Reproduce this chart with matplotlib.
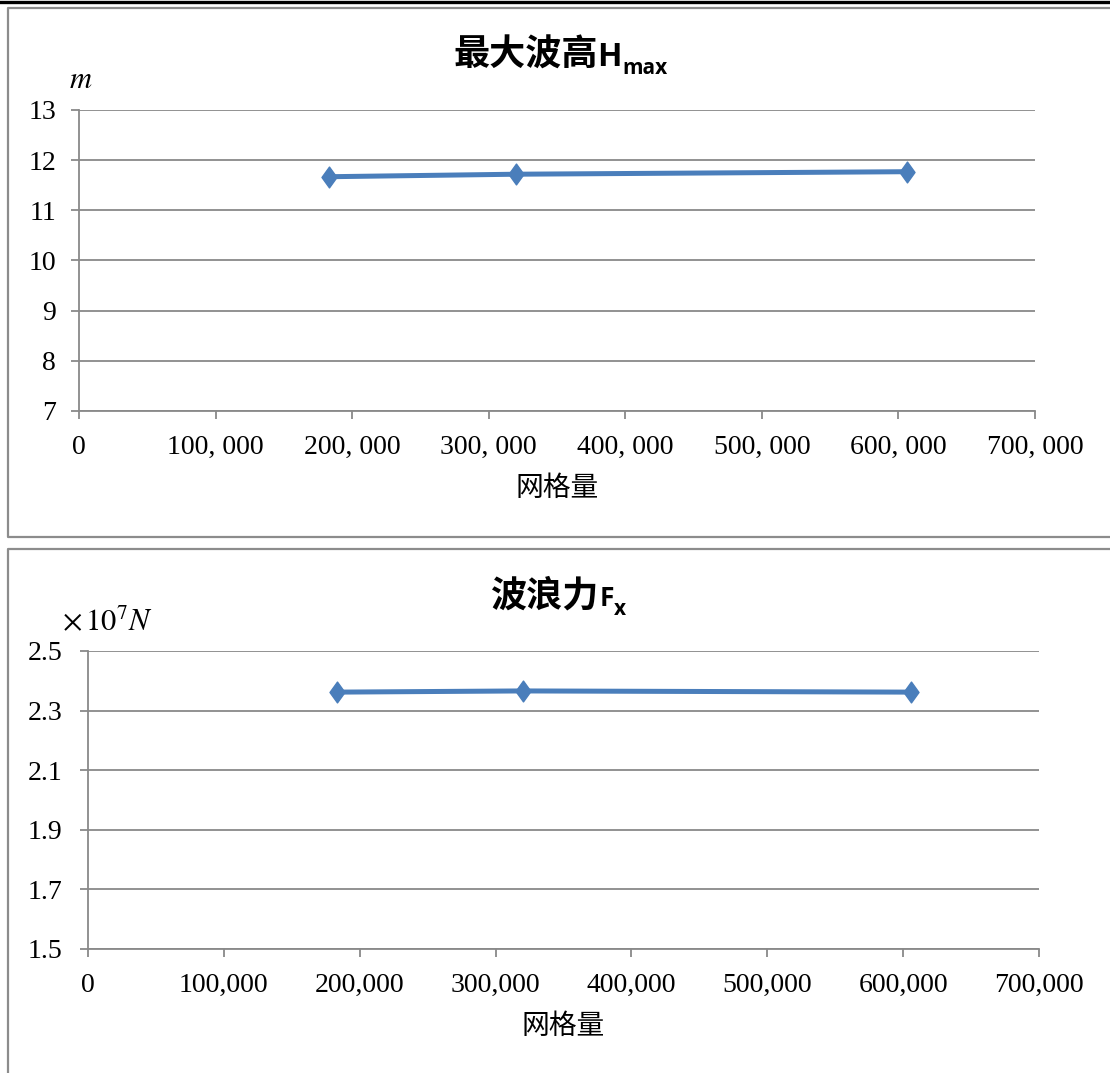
import matplotlib
matplotlib.use("Agg")
import matplotlib.pyplot as plt
from matplotlib.font_manager import FontProperties
from matplotlib.lines import Line2D
from matplotlib.path import Path
from matplotlib.ticker import FuncFormatter

# ---- data ----
mesh_counts = [183000, 320000, 606000]          # 网格量
hmax_values = [11.67, 11.72, 11.77]             # 最大波高 (m)
fx_values = [2.362, 2.366, 2.362]               # 波浪力 (×10^7 N)

hmax_yticks = [7, 8, 9, 10, 11, 12, 13]
fx_yticks = [1.5, 1.7, 1.9, 2.1, 2.3, 2.5]
x_ticks = [0, 100000, 200000, 300000, 400000, 500000, 600000, 700000]

# ---- styles ----
W, H = 1110, 1073
DPI = 100
LINE_BLUE = "#4A7EBB"
GRID_GRAY = "#898989"
FRAME_GRAY = "#8c8c8c"
SERIF = "Liberation Serif"
CJK = "Noto Sans CJK SC"
LATIN_BOLD = "Open Sans"

diamond = Path([(0, 1), (0.72, 0), (0, -1), (-0.72, 0), (0, 1)],
               [Path.MOVETO, Path.LINETO, Path.LINETO, Path.LINETO, Path.CLOSEPOLY])

fig = plt.figure(figsize=(W / DPI, H / DPI), dpi=DPI)
fig.patch.set_facecolor("white")


def px_box(left, top, right, bottom):
    """Convert pixel box (top-left origin) into figure fraction rect."""
    return [left / W, 1 - bottom / H, (right - left) / W, (bottom - top) / H]


def style_axes(ax, yticks, xfmt, yfmt, ypad):
    ax.set_xlim(x_ticks[0], x_ticks[-1])
    ax.set_ylim(yticks[0], yticks[-1])
    ax.set_xticks(x_ticks)
    ax.set_yticks(yticks)
    ax.xaxis.set_major_formatter(FuncFormatter(xfmt))
    ax.yaxis.set_major_formatter(FuncFormatter(yfmt))
    for side in ("top", "right"):
        ax.spines[side].set_visible(False)
    for side in ("left", "bottom"):
        ax.spines[side].set_color(GRID_GRAY)
        ax.spines[side].set_linewidth(1.3)
    ax.grid(axis="y", color=GRID_GRAY, linewidth=1.3)
    ax.set_axisbelow(True)
    ax.tick_params(axis="both", direction="out", length=5.5, width=1.3,
                   color=GRID_GRAY, labelsize=20, labelcolor="black")
    ax.tick_params(axis="y", pad=ypad)
    ax.tick_params(axis="x", pad=12)
    for lab in ax.get_xticklabels() + ax.get_yticklabels():
        lab.set_fontfamily(SERIF)


def draw_series(ax, xs, ys):
    ax.plot(xs, ys, color=LINE_BLUE, linewidth=3.6, marker=diamond,
            markersize=15, markerfacecolor=LINE_BLUE, markeredgecolor=LINE_BLUE,
            solid_capstyle="butt", zorder=3, clip_on=False)


# ---- panel frames and page rules ----
fig.add_artist(Line2D([0, 1], [1 - 2 / H, 1 - 2 / H], color="black", linewidth=2.4))
fig.add_artist(Line2D([1.0, 8 / W, 8 / W, 1.0],
                      [1 - 7.5 / H, 1 - 7.5 / H, 1 - 537 / H, 1 - 537 / H],
                      color=FRAME_GRAY, linewidth=1.6))
fig.add_artist(Line2D([8 / W, 8 / W, 1.0],
                      [0.0, 1 - 549 / H, 1 - 549 / H],
                      color=FRAME_GRAY, linewidth=1.6))

# ---- upper chart: maximum wave height ----
ax1 = fig.add_axes(px_box(79, 110, 1035, 411))
style_axes(ax1, hmax_yticks,
           lambda v, p: f"{int(v):,}".replace(",", ", "),
           lambda v, p: f"{int(v)}", ypad=11)
draw_series(ax1, mesh_counts, hmax_values)

# ---- lower chart: wave force ----
ax2 = fig.add_axes(px_box(88, 651, 1039, 949))
style_axes(ax2, fx_yticks,
           lambda v, p: f"{int(v):,}",
           lambda v, p: f"{v:.1f}", ypad=13)
draw_series(ax2, mesh_counts, fx_values)

# ---- axis titles / units ----
fig.text(557 / W, 1 - 488 / H, "网格量", family=CJK, fontsize=20,
         ha="center", va="center")
fig.text(563 / W, 1 - 1026 / H, "网格量", family=CJK, fontsize=20,
         ha="center", va="center")
fig.text(81 / W, 1 - 80 / H, r"$m$", fontsize=22, ha="center", va="center",
         math_fontfamily="stix")
fig.text(107 / W, 1 - 621 / H, r"$\times\,10^{7}N$", fontsize=22,
         ha="center", va="center", math_fontfamily="stix")


# ---- chart titles: CJK text + bold latin symbol with subscript ----
def compose_title(x_left, baseline, parts):
    fig.canvas.draw()
    renderer = fig.canvas.get_renderer()
    x = x_left
    for text, fp, dy, gap in parts:
        x += gap
        t = fig.text(x / W, 1 - (baseline + dy) / H, text, fontproperties=fp,
                     ha="left", va="baseline")
        bb = t.get_window_extent(renderer)
        x += bb.width


cjk_bold = FontProperties(family=CJK, weight="bold", size=26)
compose_title(453, 66, [
    ("最大波高", cjk_bold, 0, 0),
    ("H", FontProperties(family=LATIN_BOLD, weight="bold", size=23), 0, 0),
    ("max", FontProperties(family=LATIN_BOLD, weight="bold", size=15), 8, 0),
])
compose_title(491, 606, [
    ("波浪力", cjk_bold, 0, 0),
    ("F", FontProperties(family=LATIN_BOLD, weight="bold", size=19), 0, 0),
    ("x", FontProperties(family=LATIN_BOLD, weight="bold", size=15), 9, 0),
])

fig.savefig("out.png", dpi=DPI)
